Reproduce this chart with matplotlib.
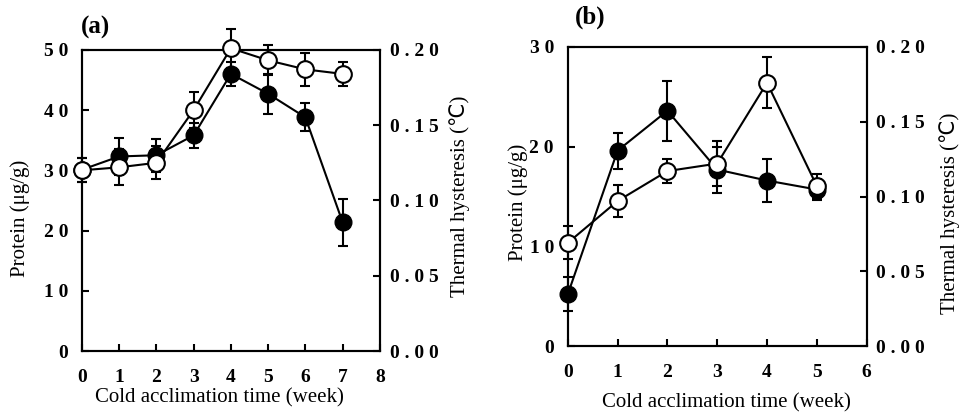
import matplotlib
matplotlib.use("Agg")
import matplotlib.pyplot as plt
import numpy as np

plt.rcParams["font.family"] = ["Liberation Serif", "DejaVu Sans"]

# panel (a)
weeks_a = [0, 1, 2, 3, 4, 5, 6, 7]
protein_a = [30.1, 32.3, 32.5, 35.8, 46.0, 42.7, 38.8, 21.4]
protein_a_err = [2.0, 3.0, 2.7, 2.1, 2.0, 3.3, 2.3, 3.9]
th_a = [0.120, 0.122, 0.125, 0.160, 0.201, 0.193, 0.187, 0.184]
th_a_err = [0.008, 0.012, 0.011, 0.012, 0.013, 0.010, 0.011, 0.008]

# panel (b)
weeks_b = [0, 1, 2, 3, 4, 5]
protein_b = [5.2, 19.6, 23.6, 17.7, 16.6, 15.7]
protein_b_err = [1.7, 1.8, 3.0, 2.3, 2.2, 1.1]
th_b = [0.069, 0.097, 0.117, 0.122, 0.176, 0.107]
th_b_err = [0.011, 0.011, 0.008, 0.015, 0.017, 0.008]

TICK_FONT = dict(fontsize=14, fontweight="bold")
LABEL_FS = 15


def no_clip(container):
    for child in container.get_children():
        child.set_clip_on(False)


def draw_panel(fig, rect, weeks, prot, prot_err, th, th_err, xmax, pmax, pstep,
               tag, lab_pos):
    ax = fig.add_axes(rect)
    ax2 = ax.twinx()
    eb = dict(capsize=3.3, elinewidth=1.5, capthick=1.5, ecolor="black")
    c1 = ax.errorbar(weeks, prot, yerr=prot_err, color="black", lw=1.5, marker="o",
                     ms=12, mfc="black", mec="black", zorder=3, **eb)
    c2 = ax2.errorbar(weeks, th, yerr=th_err, color="black", lw=1.5, marker="o",
                      ms=12, mfc="white", mec="black", mew=1.5, zorder=3, **eb)
    no_clip(c1)
    no_clip(c2)
    ax.set_xlim(0, xmax)
    ax.set_ylim(0, pmax)
    ax2.set_ylim(0, 0.20)
    ax.set_xticks(np.arange(0, xmax + 1, 1))
    ax.set_yticks(np.arange(0, pmax + 1, pstep))
    ax2.set_yticks(np.arange(0, 0.201, 0.05))
    ax.set_xticklabels([str(v) for v in range(xmax + 1)], **TICK_FONT)
    ax.set_yticklabels([" ".join(str(v)) for v in range(0, pmax + 1, pstep)], **TICK_FONT)
    ax2.set_yticklabels([" ".join(f"{v:.2f}") for v in np.arange(0, 0.201, 0.05)], **TICK_FONT)
    for a in (ax, ax2):
        a.tick_params(direction="in", length=5, width=1.5)
        for s in a.spines.values():
            s.set_linewidth(1.5)
    ax.tick_params(axis="x", pad=13)
    ax.tick_params(axis="y", pad=10)
    ax2.tick_params(axis="y", pad=7)
    ax.set_xlabel("Cold acclimation time (week)", fontsize=LABEL_FS, va="center")
    ax.set_ylabel("Protein (μg/g)", fontsize=LABEL_FS, va="center")
    ax2.set_ylabel("Thermal hysteresis (℃)", fontsize=LABEL_FS, va="center")
    ax.xaxis.set_label_coords(*lab_pos[0])
    ax.yaxis.set_label_coords(*lab_pos[1])
    ax2.yaxis.set_label_coords(*lab_pos[2])
    ax.text(lab_pos[3][0], lab_pos[3][1], tag, transform=ax.transAxes, fontsize=18,
            fontweight="bold", ha="left", va="center")
    ax.patch.set_visible(False)
    return ax


fig = plt.figure(figsize=(9.64, 4.15), dpi=100)
draw_panel(fig, [0.085, 0.154, 0.309, 0.726], weeks_a, protein_a, protein_a_err,
           th_a, th_a_err, 8, 50, 10, "(a)",
           [(0.463, -0.156), (-0.208, 0.44), (1.268, 0.515), (-0.005, 1.075)])
draw_panel(fig, [0.589, 0.166, 0.310, 0.721], weeks_b, protein_b, protein_b_err,
           th_b, th_b_err, 6, 30, 10, "(b)",
           [(0.532, -0.19), (-0.167, 0.48), (1.278, 0.445), (0.023, 1.10)])
fig.savefig("out.png", dpi=100)
